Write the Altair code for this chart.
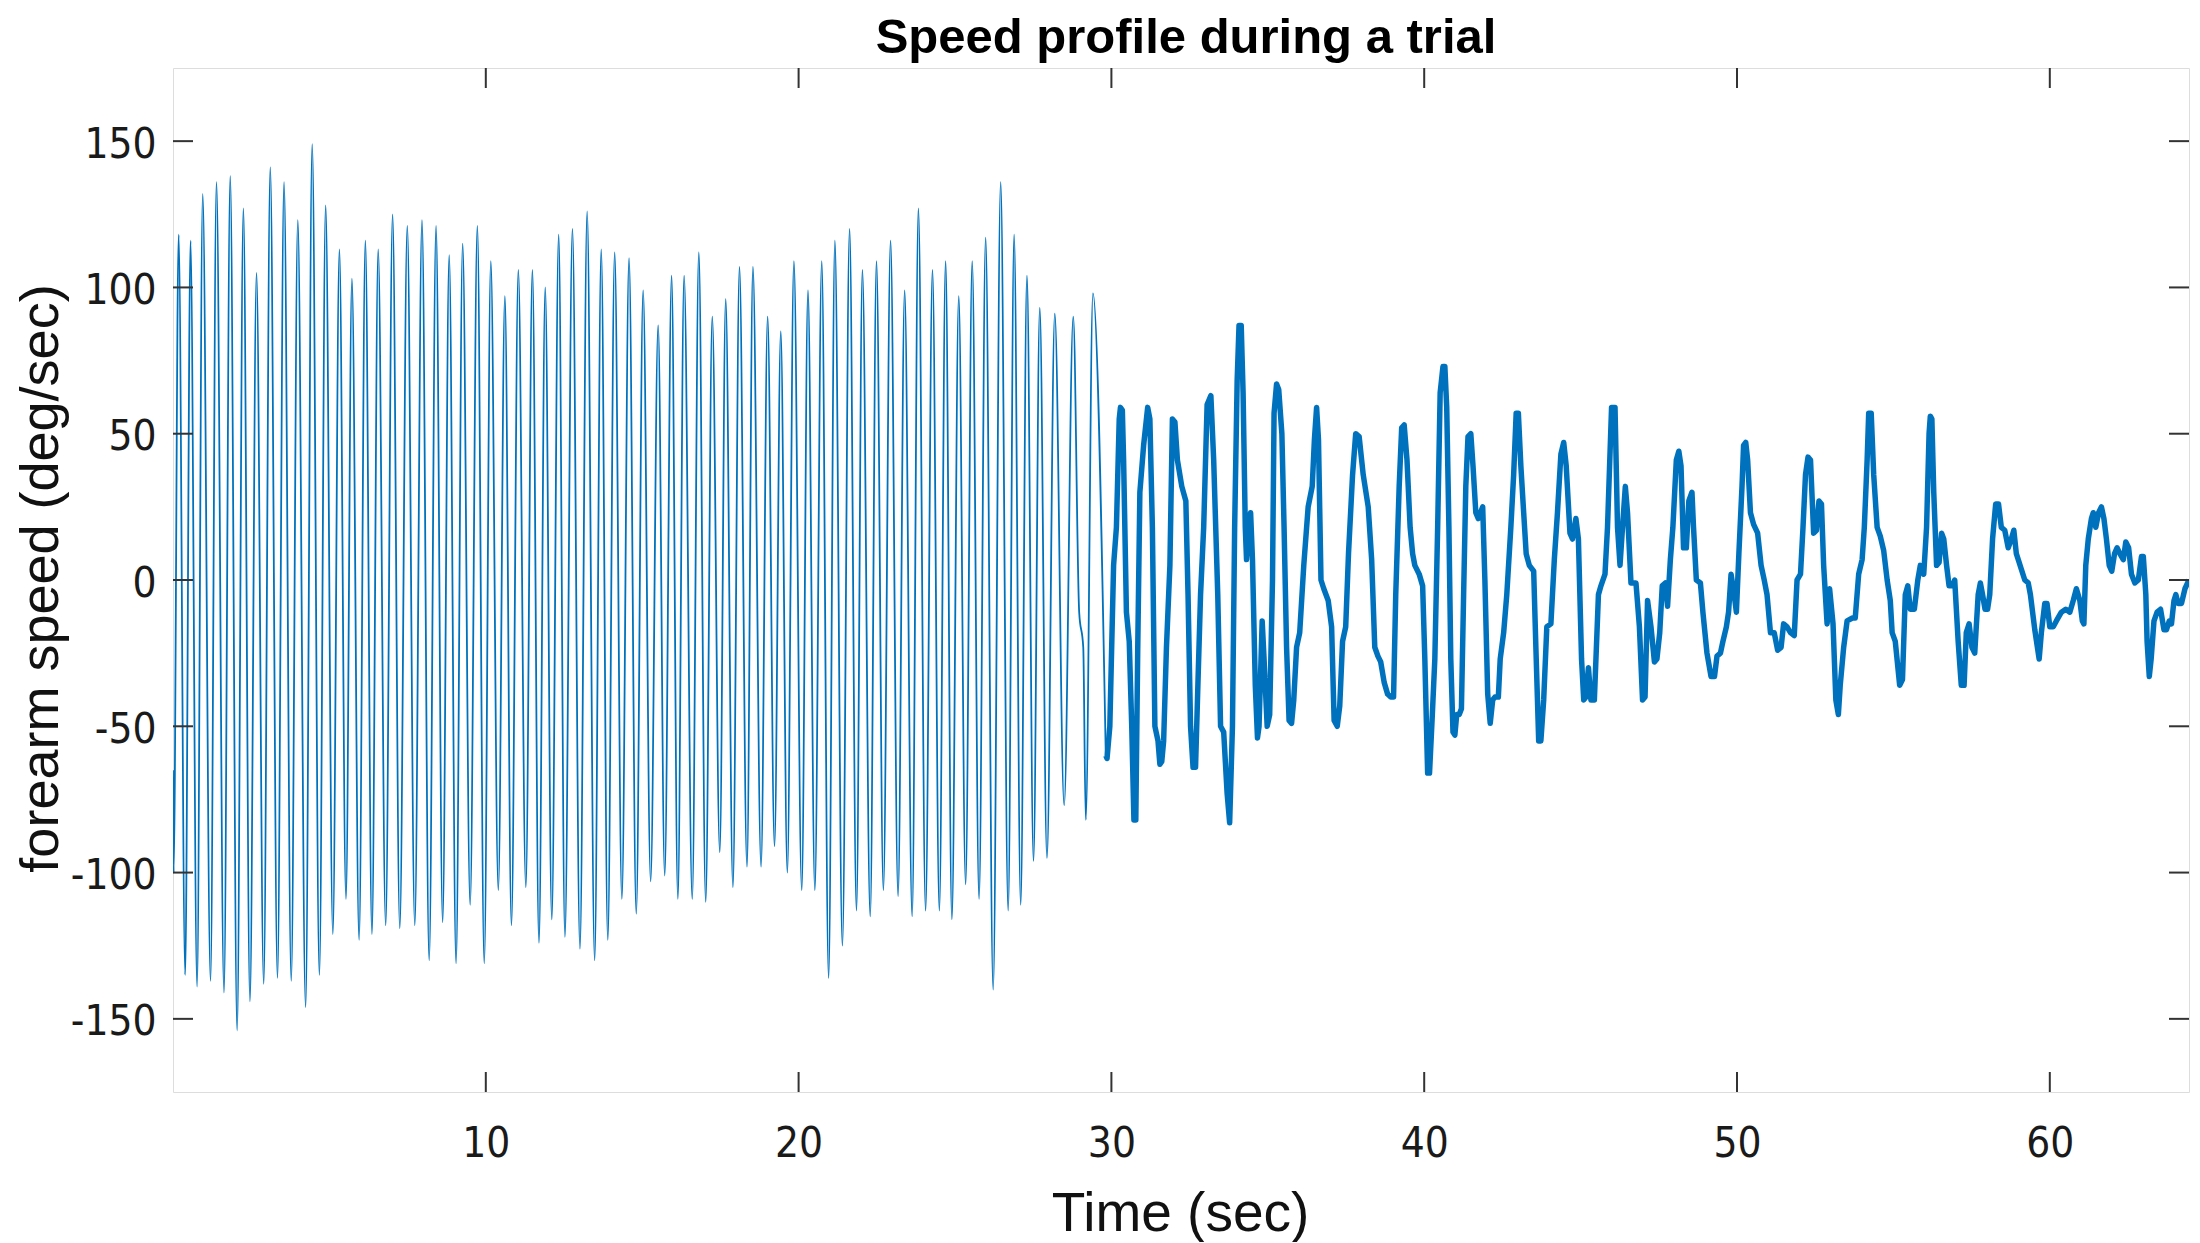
import altair as alt
import pandas as pd

# ---------------- data ----------------
# thin segment (0 - 29.8 s): start, then alternating peaks / troughs
thin_t = [0.00, 0.02, 0.18, 0.39, 0.56, 0.77, 0.95, 1.20, 1.39, 1.63, 1.83, 2.05, 2.25, 2.46,
          2.67, 2.90, 3.11, 3.34, 3.55, 3.78, 3.99, 4.24, 4.45, 4.68, 4.88, 5.11, 5.32, 5.53,
          5.72, 5.95, 6.15, 6.36, 6.56, 6.80, 7.02, 7.25, 7.49, 7.73, 7.96, 8.19, 8.41, 8.62,
          8.83, 9.05, 9.26, 9.50, 9.73, 9.95, 10.16, 10.40, 10.61, 10.82, 11.04, 11.28, 11.49,
          11.70, 11.90, 12.11, 12.33, 12.53, 12.77, 13.01, 13.24, 13.48, 13.69, 13.90, 14.12,
          14.35, 14.58, 14.81, 15.03, 15.27, 15.51, 15.72, 15.94, 16.14, 16.34, 16.60, 16.81,
          17.03, 17.24, 17.48, 17.67, 17.90, 18.11, 18.35, 18.54, 18.80, 19.01, 19.23, 19.43,
          19.64, 19.85, 20.10, 20.30, 20.52, 20.74, 20.96, 21.16, 21.40, 21.63, 21.85, 22.04,
          22.29, 22.49, 22.71, 22.94, 23.18, 23.39, 23.63, 23.83, 24.06, 24.28, 24.50, 24.70,
          24.90, 25.12, 25.34, 25.55, 25.77, 25.98, 26.22, 26.46, 26.70, 26.89, 27.10, 27.30,
          27.51, 27.71, 27.94, 28.19, 28.49, 28.78, 28.97, 29.10, 29.18, 29.41, 29.82]
thin_v = [-65, -100, 118, -135, 116, -139, 132, -137, 136, -141, 138, -154, 127, -144,
          105, -138, 141, -136, 136, -137, 123, -146, 149, -135, 128, -121, 113, -109,
          103, -123, 116, -121, 113, -118, 125, -119, 121, -118, 123, -130, 121, -117,
          111, -131, 115, -111, 121, -131, 109, -106, 97, -118, 106, -105, 106,
          -124, 100, -116, 118, -122, 120, -126, 126, -130, 113, -123, 112,
          -109, 110, -114, 99, -103, 87, -101, 104, -109, 104, -109, 112,
          -110, 90, -93, 96, -105, 107, -98, 107, -98, 90, -91, 85,
          -100, 109, -106, 99, -106, 109, -136, 116, -125, 120, -113, 106,
          -115, 109, -106, 116, -108, 99, -115, 127, -113, 106, -113, 109,
          -116, 97, -104, 109, -109, 117, -140, 136, -113, 118, -111, 104,
          -96, 93, -95, 91, -77, 90, -11, -23, -82, 98, -60]

# thick segment (29.8 - 64.5 s)
thick_t = [29.82, 29.86, 29.95, 30.07, 30.16, 30.25, 30.29, 30.35, 30.39, 30.48, 30.57, 30.65,
           30.72, 30.78, 30.84, 30.91, 31.03, 31.16, 31.23, 31.31, 31.39, 31.49, 31.55, 31.61,
           31.67, 31.76, 31.87, 31.95, 32.03, 32.11, 32.25, 32.38, 32.45, 32.53, 32.61, 32.69,
           32.77, 32.85, 32.95, 33.06, 33.18, 33.27, 33.40, 33.49, 33.59, 33.70, 33.78, 33.87,
           33.94, 34.02, 34.08, 34.15, 34.21, 34.28, 34.32, 34.38, 34.45, 34.51, 34.60, 34.67,
           34.72, 34.82, 34.88, 34.98, 35.06, 35.15, 35.20, 35.28, 35.35, 35.45, 35.52, 35.60,
           35.68, 35.76, 35.83, 35.92, 36.02, 36.15, 36.29, 36.42, 36.49, 36.56, 36.62, 36.70,
           36.79, 36.93, 37.04, 37.12, 37.22, 37.30, 37.39, 37.49, 37.58, 37.71, 37.81, 37.92,
           38.05, 38.21, 38.32, 38.42, 38.52, 38.61, 38.72, 38.83, 38.93, 39.02, 39.09, 39.20,
           39.28, 39.36, 39.45, 39.55, 39.63, 39.70, 39.84, 39.95, 40.02, 40.11, 40.17, 40.26,
           40.34, 40.43, 40.51, 40.60, 40.66, 40.72, 40.79, 40.85, 40.92, 40.98, 41.04, 41.12,
           41.19, 41.26, 41.33, 41.40, 41.49, 41.56, 41.65, 41.73, 41.87, 41.94, 42.03, 42.11,
           42.19, 42.26, 42.37, 42.43, 42.54, 42.64, 42.77, 42.86, 42.94, 43.01, 43.09, 43.18,
           43.26, 43.36, 43.50, 43.57, 43.66, 43.73, 43.82, 43.92, 44.05, 44.16, 44.26, 44.37,
           44.46, 44.54, 44.66, 44.74, 44.85, 44.93, 45.03, 45.10, 45.17, 45.25, 45.33, 45.44,
           45.57, 45.65, 45.78, 45.86, 45.99, 46.10, 46.18, 46.26, 46.34, 46.43, 46.50, 46.61,
           46.77, 46.88, 46.98, 47.06, 47.14, 47.25, 47.36, 47.44, 47.53, 47.61, 47.71, 47.78,
           47.87, 47.95, 48.06, 48.14, 48.21, 48.29, 48.38, 48.46, 48.56, 48.61, 48.70, 48.83,
           48.91, 49.04, 49.17, 49.28, 49.36, 49.47, 49.55, 49.66, 49.73, 49.81, 49.91, 49.98,
           50.06, 50.16, 50.21, 50.28, 50.34, 50.43, 50.53, 50.66, 50.77, 50.87, 50.96, 51.07,
           51.19, 51.30, 51.41, 51.49, 51.60, 51.71, 51.83, 51.92, 52.03, 52.11, 52.19, 52.27,
           52.35, 52.45, 52.54, 52.62, 52.70, 52.77, 52.88, 52.96, 53.07, 53.16, 53.24, 53.30,
           53.41, 53.52, 53.69, 53.78, 53.89, 54.00, 54.07, 54.16, 54.21, 54.29, 54.37, 54.48,
           54.58, 54.69, 54.80, 54.90, 54.96, 55.06, 55.20, 55.29, 55.38, 55.46, 55.54, 55.67,
           55.78, 55.86, 55.97, 56.06, 56.14, 56.18, 56.23, 56.29, 56.38, 56.46, 56.54, 56.61,
           56.70, 56.78, 56.89, 56.96, 57.07, 57.17, 57.26, 57.33, 57.42, 57.51, 57.60, 57.71,
           57.78, 57.85, 57.93, 58.01, 58.08, 58.17, 58.27, 58.36, 58.45, 58.56, 58.67, 58.77,
           58.85, 58.93, 59.20, 59.31, 59.38, 59.52, 59.66, 59.73, 59.84, 59.91, 60.00, 60.11,
           60.21, 60.37, 60.51, 60.64, 60.75, 60.85, 60.96, 61.04, 61.09, 61.15, 61.23, 61.33,
           61.39, 61.47, 61.56, 61.65, 61.73, 61.81, 61.90, 61.98, 62.07, 62.15, 62.24, 62.35,
           62.43, 62.52, 62.61, 62.72, 62.83, 62.93, 62.99, 63.07, 63.11, 63.18, 63.24, 63.33,
           63.43, 63.54, 63.65, 63.73, 63.82, 63.89, 63.97, 64.03, 64.10, 64.21, 64.32, 64.45]
thick_v = [-60, -61, -50, 5, 18, 55, 59, 58, 41, -11, -21, -50,
           -82, -82, -25, 30, 46, 59, 55, 18, -50, -55, -63, -62,
           -55, -23, 5, 55, 54, 41, 32, 27, -5, -50, -64, -64,
           -34, -5, 18, 60, 63, 41, -5, -50, -52, -73, -83, -50,
           18, 68, 87, 87, 64, 18, 7, 18, 23, 7, -36, -54,
           -50, -14, -27, -50, -46, 0, 57, 67, 65, 50, 18, -23,
           -48, -49, -41, -23, -18, 5, 25, 32, 48, 59, 48, 0,
           -3, -7, -16, -48, -50, -43, -21, -16, 9, 36, 50, 49,
           36, 25, 7, -23, -26, -28, -35, -39, -40, -40, -5, 32,
           52, 53, 41, 18, 9, 5, 2, -2, -27, -66, -66, -46,
           -27, 18, 64, 73, 73, 59, 18, -27, -52, -53, -46, -46,
           -44, -5, 32, 49, 50, 39, 23, 21, 25, 0, -39, -49,
           -41, -40, -40, -27, -18, -5, 18, 36, 57, 57, 39, 23,
           9, 5, 3, -23, -55, -55, -41, -16, -15, 7, 23, 43,
           47, 39, 16, 14, 21, 14, -27, -41, -40, -30, -41, -41,
           -5, -2, 2, 18, 59, 59, 18, 5, 18, 32, 23, -1,
           -1, -16, -41, -40, -7, -16, -28, -27, -18, -2, -1, -9,
           7, 18, 41, 44, 39, 11, 11, 27, 30, 18, 0, -1,
           -11, -25, -33, -33, -26, -25, -21, -16, -11, 2, -5, -11,
           9, 32, 46, 47, 41, 23, 19, 16, 5, 0, -5, -18,
           -18, -24, -23, -15, -16, -18, -19, 0, 2, 18, 36, 42,
           41, 16, 17, 27, 26, 5, -15, -3, -15, -41, -46, -36,
           -23, -14, -13, -13, 2, 7, 18, 41, 57, 57, 36, 18,
           15, 10, 0, -7, -18, -21, -36, -34, -5, -2, -10, -10,
           0, 5, 2, 18, 50, 56, 55, 30, 5, 6, 16, 14,
           5, -2, -2, 0, -21, -36, -36, -18, -15, -23, -25, -5,
           -1, -5, -10, -10, -5, 14, 26, 26, 18, 17, 11, 14,
           17, 9, 0, -1, -5, -17, -27, -18, -8, -8, -16, -16,
           -14, -11, -10, -11, -7, -3, -7, -14, -15, 5, 14, 21,
           23, 18, 23, 25, 21, 14, 5, 3, 9, 11, 9, 7,
           13, 11, 2, -1, 0, 8, 8, -5, -21, -33, -27, -14,
           -11, -10, -17, -17, -14, -15, -7, -5, -8, -8, -3, 0]

x_ticks = [10, 20, 30, 40, 50, 60]
y_ticks = [-150, -100, -50, 0, 50, 100, 150]
X_MIN, X_MAX = 0.0, 64.45
Y_MIN, Y_MAX = -175, 175

TITLE = "Speed profile during a trial"
X_TITLE = "Time (sec)"
Y_TITLE = "forearm speed (deg/sec)"

# ---------------- chart ----------------
W, H = 2016, 1024
TICK_LEN = 20
LINE_COLOR = "#0072BD"
FRAME = "#333333"
LABEL_FONT = "DejaVu Sans Condensed, DejaVu Sans"
TITLE_FONT = "Liberation Sans, Arial"

thin = pd.DataFrame({"t": thin_t, "v": thin_v})
thick = pd.DataFrame({"t": thick_t, "v": thick_v})
xt = pd.DataFrame({"t": x_ticks})
yt = pd.DataFrame({"v": y_ticks})
title_df = pd.DataFrame({"title": [TITLE]})

xscale = alt.Scale(domain=[X_MIN, X_MAX], nice=False, zero=False)
yscale = alt.Scale(domain=[Y_MIN, Y_MAX], nice=False, zero=False)

xaxis = alt.Axis(values=x_ticks, ticks=False, tickSize=0, domain=False, grid=False,
                 labelFont=LABEL_FONT, labelFontSize=42, labelColor="#1a1a1a",
                 labelPadding=31, title=X_TITLE, titleFont=TITLE_FONT,
                 titleFontSize=55, titleFontWeight="normal", titleColor="#111111",
                 titleBaseline="alphabetic", titleX=1007, titleY=138)
yaxis = alt.Axis(values=y_ticks, ticks=False, tickSize=0, domain=False, grid=False,
                 labelFont=LABEL_FONT, labelFontSize=42, labelColor="#1a1a1a",
                 labelPadding=17, labelOffset=3, labelExpr="'' + datum.value",
                 title=Y_TITLE, titleFont=TITLE_FONT, titleFontSize=54,
                 titleFontWeight="normal", titleColor="#111111",
                 titleBaseline="alphabetic", titleAngle=270, titleX=-116, titleY=510)

thin_line = alt.Chart(thin).mark_line(
    color=LINE_COLOR, strokeWidth=1.8, interpolate="monotone", clip=True
).encode(
    x=alt.X("t:Q", scale=xscale, axis=xaxis),
    y=alt.Y("v:Q", scale=yscale, axis=yaxis),
)

thick_line = alt.Chart(thick).mark_line(
    color=LINE_COLOR, strokeWidth=5.5, strokeJoin="round", clip=True
).encode(
    x=alt.X("t:Q", scale=xscale),
    y=alt.Y("v:Q", scale=yscale),
)

# inward tick marks on all four sides (kept inside the plot area)
xticks_bottom = alt.Chart(xt).mark_rule(color=FRAME, strokeWidth=2).encode(
    x=alt.X("t:Q", scale=xscale), y=alt.value(H - TICK_LEN), y2=alt.value(H))
xticks_top = alt.Chart(xt).mark_rule(color=FRAME, strokeWidth=2).encode(
    x=alt.X("t:Q", scale=xscale), y=alt.value(0), y2=alt.value(TICK_LEN))
yticks_left = alt.Chart(yt).mark_rule(color=FRAME, strokeWidth=2).encode(
    y=alt.Y("v:Q", scale=yscale), x=alt.value(0), x2=alt.value(TICK_LEN))
yticks_right = alt.Chart(yt).mark_rule(color=FRAME, strokeWidth=2).encode(
    y=alt.Y("v:Q", scale=yscale), x=alt.value(W - TICK_LEN), x2=alt.value(W))

# chart title, centred above the plot frame
title_text = alt.Chart(title_df).mark_text(
    font=TITLE_FONT, fontSize=49, fontWeight="bold", color="#000000",
    align="center", baseline="alphabetic"
).encode(text="title:N", x=alt.value(W / 2 + 5), y=alt.value(-15))

chart = alt.layer(
    thin_line, thick_line, xticks_bottom, xticks_top, yticks_left, yticks_right,
    title_text
).properties(
    width=W, height=H,
    autosize=alt.AutoSizeParams(type="none"),
    padding={"left": 165, "top": 60, "right": 2, "bottom": 150},
).configure_view(
    stroke=FRAME, strokeWidth=2.5
).configure(background="#ffffff")

chart.save("out.html", embed_options={"renderer": "svg", "actions": False})
